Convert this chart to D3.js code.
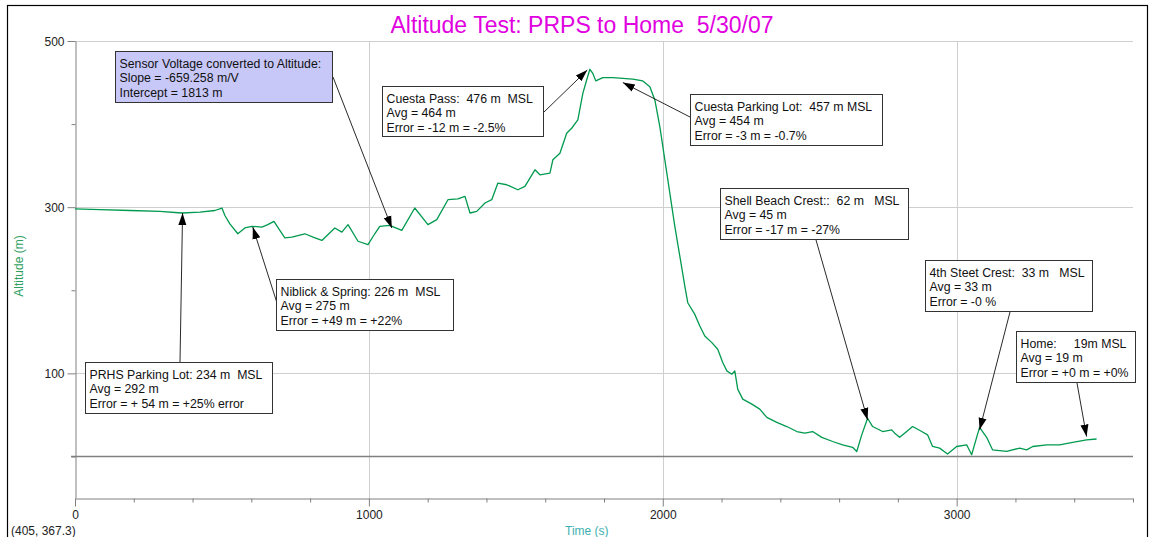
<!DOCTYPE html>
<html>
<head>
<meta charset="utf-8">
<script src="https://cdnjs.cloudflare.com/ajax/libs/d3/7.8.5/d3.min.js"></script>
<style>
  body { margin: 0; background: #fff; }
  svg { display: block; }
  text { font-family: "Liberation Sans", Arial, sans-serif; }
  .note text { white-space: pre; }
</style>
</head>
<body>
<svg id="chart" width="1151" height="537"></svg>
<script>

// altitude log (time in s, altitude in m)
var timeS = [0, 85, 187, 289, 364, 425, 476, 500, 510, 527, 554, 578, 602, 636, 656, 677, 697, 714, 738, 782, 810, 840,
  884, 908, 929, 963, 997, 1020, 1037, 1071, 1112, 1156, 1201, 1231, 1269, 1303, 1327, 1344, 1367, 1395, 1418, 1439,
  1469, 1507, 1531, 1565, 1582, 1616, 1626, 1650, 1673, 1690, 1711, 1728, 1741, 1752, 1762, 1772, 1796, 1830, 1864,
  1898, 1932, 1956, 1973, 1990, 2007, 2024, 2041, 2058, 2075, 2085, 2109, 2126, 2143, 2167, 2187, 2204, 2218, 2235,
  2245, 2255, 2272, 2303, 2330, 2354, 2388, 2422, 2456, 2483, 2510, 2541, 2578, 2612, 2646, 2660, 2677, 2697, 2714,
  2748, 2779, 2789, 2806, 2830, 2850, 2881, 2901, 2918, 2942, 2969, 3000, 3034, 3051, 3068, 3078, 3102, 3122, 3170,
  3214, 3238, 3259, 3306, 3350, 3395, 3442, 3476];
var altitudeM = [298, 297, 296, 295, 293, 294, 296, 299, 290, 280, 268, 275, 277, 276, 279, 283, 272, 263, 264, 268, 264, 260,
  275, 270, 279, 259, 255, 268, 277, 278, 272, 299, 279, 285, 309, 310, 313, 293, 295, 305, 309, 329,
  327, 321, 325, 345, 339, 341, 357, 365, 389, 395, 405, 437, 453, 466, 461, 452, 456, 456, 455,
  454, 452, 445, 429, 397, 357, 317, 277, 241, 205, 185, 171, 157, 145, 137, 129, 113, 103, 99,
  103, 81, 69, 63, 57, 47, 41, 36, 30, 28, 30, 23, 18, 14, 11, 6, 26, 46, 36,
  30, 32, 28, 23, 30, 36, 30, 26, 12, 10, 3, 12, 14, 2, 23, 35, 23, 8, 6,
  10, 8, 12, 14, 14, 17, 20, 21];

var yMajor = [100, 300, 500];
var yMinor = [0, 200, 400];
var xMajor = [0, 1000, 2000, 3000];
var xMinor = [200, 400, 600, 800, 1200, 1400, 1600, 1800, 2200, 2400, 2600, 2800, 3200, 3400, 3600];

// callouts: text and the point (time, altitude) the arrow points at
var noteText = [
  ["Sensor Voltage converted to Altitude:", "Slope = -659.258 m/V", "Intercept = 1813 m"],
  ["Cuesta Pass:  476 m  MSL", "Avg = 464 m", "Error = -12 m = -2.5%"],
  ["Cuesta Parking Lot:  457 m MSL", "Avg = 454 m", "Error = -3 m = -0.7%"],
  ["Shell Beach Crest::  62 m   MSL", "Avg = 45 m", "Error = -17 m = -27%"],
  ["Niblick & Spring: 226 m  MSL", "Avg = 275 m", "Error = +49 m = +22%"],
  ["PRHS Parking Lot: 234 m  MSL", "Avg = 292 m", "Error = + 54 m = +25% error"],
  ["4th Steet Crest:  33 m   MSL", "Avg = 33 m", "Error = -0 %"],
  ["Home:     19m MSL", "Avg = 19 m", "Error = +0 m = +0%"]
];
var noteTime = [1078, 1743, 1864, 2697, 605, 366, 3078, 3442];
var noteAlt = [275, 465, 450, 44, 276, 293, 32, 24];

// box layout in px: x, y, w, h, arrow start x, arrow start y
var noteBox = [
  [115.5, 51.5, 217, 51, 333, 77],
  [382.5, 86.5, 161, 50, 544, 112],
  [690.5, 94.5, 192, 51, 690, 117],
  [720.5, 188.5, 188, 51, 816, 240],
  [276.5, 279.5, 177, 51, 277, 303],
  [85.5, 362.5, 187, 51, 180, 362],
  [925.5, 260.5, 167, 51, 1010, 312],
  [1016.5, 331.5, 119, 51, 1077, 383]
];

var svg = d3.select("#chart");
var x = d3.scaleLinear().domain([0, 3600]).range([75, 1133]);
var y = d3.scaleLinear().domain([-50, 500]).range([498, 41]);

// outer frame
svg.append("rect")
    .attr("x", 7.5).attr("y", 5.5)
    .attr("width", 1140).attr("height", 540)
    .attr("fill", "none")
    .attr("stroke", "#000")
    .attr("stroke-width", 1.2);

svg.append("text")
    .attr("x", 582).attr("y", 33)
    .attr("text-anchor", "middle")
    .attr("font-size", 23)
    .attr("fill", "#e000e0")
    .style("white-space", "pre")
    .text("Altitude Test: PRPS to Home  5/30/07");

// grid
var grid = svg.append("g").attr("stroke", "#cfcfcf").attr("stroke-width", 1);
grid.selectAll("line.h")
    .data(yMajor)
    .enter()
    .append("line")
    .attr("x1", x(0)).attr("x2", x(3600))
    .attr("y1", d => Math.round(y(d)) + 0.5)
    .attr("y2", d => Math.round(y(d)) + 0.5);
grid.selectAll("line.v")
    .data(xMajor.slice(1))
    .enter()
    .append("line")
    .attr("y1", y(500)).attr("y2", y(-50))
    .attr("x1", d => Math.round(x(d)) + 0.5)
    .attr("x2", d => Math.round(x(d)) + 0.5);

// zero line
svg.append("line")
    .attr("x1", x(0) - 4).attr("x2", x(3600))
    .attr("y1", Math.round(y(0)) + 0.5).attr("y2", Math.round(y(0)) + 0.5)
    .attr("stroke", "#808080")
    .attr("stroke-width", 1.5);

function styleAxis(g){
  g.selectAll("path,line").attr("stroke", "#808080");
  g.selectAll("text").attr("fill", "#222").attr("font-size", 12)
      .attr("font-family", "'Liberation Sans', Arial, sans-serif");
}

var yAxis = svg.append("g").attr("transform", "translate(" + (x(0) + 0.5) + ",0)");
yAxis.call(d3.axisLeft(y).tickValues(yMajor).tickSize(8).tickSizeOuter(0).tickPadding(3));
yAxis.call(styleAxis);
yAxis.selectAll("text").attr("dy", "0.35em");
svg.append("g").attr("transform", "translate(" + (x(0) + 0.5) + ",0)")
    .call(d3.axisLeft(y).tickValues(yMinor).tickSize(4).tickSizeOuter(0).tickFormat(""))
    .call(styleAxis)
    .select(".domain").remove();

var xAxis = svg.append("g").attr("transform", "translate(0," + (y(-50) + 0.5) + ")");
xAxis.call(d3.axisBottom(x).tickValues(xMajor).tickSize(8).tickSizeOuter(0).tickPadding(4).tickFormat(d3.format("d")));
xAxis.call(styleAxis);
svg.append("g").attr("transform", "translate(0," + (y(-50) + 0.5) + ")")
    .call(d3.axisBottom(x).tickValues(xMinor).tickSize(4).tickSizeOuter(0).tickFormat(""))
    .call(styleAxis)
    .select(".domain").remove();

svg.append("text")
    .attr("transform", "translate(23,266) rotate(-90)")
    .attr("text-anchor", "middle")
    .attr("font-size", 12)
    .attr("fill", "#2ea060")
    .text("Altitude (m)");

svg.append("text")
    .attr("x", 565).attr("y", 535)
    .attr("font-size", 12)
    .attr("fill", "#3cb0b0")
    .text("Time (s)");

svg.append("text")
    .attr("x", 11).attr("y", 535)
    .attr("font-size", 12)
    .attr("fill", "#222")
    .text("(405, 367.3)");

// altitude trace
var points = timeS.map((t, i) => [t, altitudeM[i]]);
svg.append("path")
    .datum(points)
    .attr("fill", "none")
    .attr("stroke", "#009a4e")
    .attr("stroke-width", 1.3)
    .attr("stroke-linejoin", "round")
    .attr("d", d3.line().x(d => x(d[0])).y(d => y(d[1])));

// arrow head
svg.append("defs").append("marker")
    .attr("id", "head")
    .attr("markerUnits", "userSpaceOnUse")
    .attr("viewBox", "0 -5 12 10")
    .attr("refX", 12).attr("refY", 0)
    .attr("markerWidth", 12).attr("markerHeight", 10)
    .attr("orient", "auto")
    .append("path")
    .attr("d", "M0,-4L12,0L0,4Z")
    .attr("fill", "#000");

var notes = svg.append("g").attr("class", "note");
noteText.forEach(function(lines, i){
  var b = noteBox[i];
  notes.append("line")
      .attr("x1", b[4]).attr("y1", b[5])
      .attr("x2", x(noteTime[i])).attr("y2", y(noteAlt[i]))
      .attr("stroke", "#111")
      .attr("stroke-width", 0.9)
      .attr("marker-end", "url(#head)");
});
noteText.forEach(function(lines, i){
  var b = noteBox[i];
  var g = notes.append("g");
  g.append("rect")
      .attr("x", b[0]).attr("y", b[1])
      .attr("width", b[2]).attr("height", b[3])
      .attr("fill", i == 0 ? "#c8c8f8" : "#fff")
      .attr("stroke", "#333")
      .attr("stroke-width", 1);
  g.selectAll("text")
      .data(lines)
      .enter()
      .append("text")
      .attr("x", b[0] + 4)
      .attr("y", (d, j) => b[1] + 16 + j * 14.7)
      .attr("font-size", 12.3)
      .attr("fill", "#111")
      .text(d => d);
});

</script>
</body>
</html>
